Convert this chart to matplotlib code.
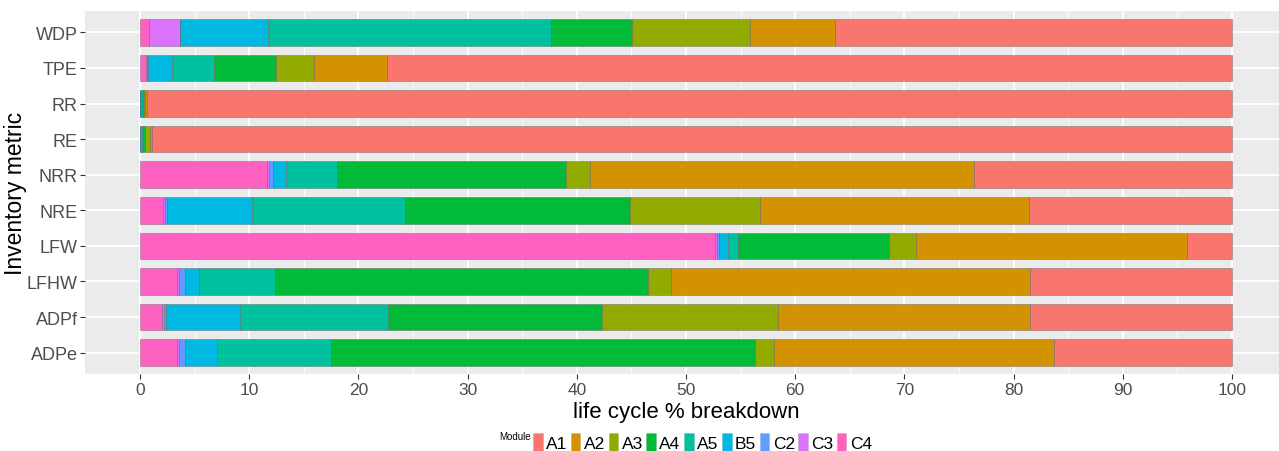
import numpy as np
import matplotlib
matplotlib.use('Agg')
import matplotlib.pyplot as plt
from matplotlib.patches import Patch

plt.rcParams['font.family'] = ['Liberation Sans', 'DejaVu Sans']

# categories, bottom to top
metrics = ['ADPe', 'ADPf', 'LFHW', 'LFW', 'NRE', 'NRR', 'RE', 'RR', 'TPE', 'WDP']

# module shares (% of life cycle), same order as metrics
C4 = [3.42, 2.05, 3.41, 52.66, 2.14, 11.60, 0.00, 0.00, 0.52, 0.85]
C3 = [0.12, 0.12, 0.12, 0.15, 0.12, 0.24, 0.00, 0.00, 0.10, 2.80]
C2 = [0.61, 0.24, 0.62, 0.20, 0.24, 0.37, 0.02, 0.02, 0.10, 0.05]
B5 = [2.93, 6.78, 1.28, 0.86, 7.78, 1.19, 0.16, 0.08, 2.24, 8.05]
A5 = [10.41, 13.55, 6.96, 0.93, 13.99, 4.67, 0.12, 0.15, 3.84, 25.91]
A4 = [38.86, 19.54, 34.10, 13.75, 20.57, 20.91, 0.19, 0.15, 5.68, 7.42]
A3 = [1.68, 16.12, 2.11, 2.55, 11.96, 2.26, 0.43, 0.05, 3.48, 10.75]
A2 = [25.67, 23.10, 32.90, 24.75, 24.60, 35.16, 0.18, 0.15, 6.69, 7.77]
A1 = [16.30, 18.50, 18.50, 4.15, 18.60, 23.60, 98.90, 99.40, 77.35, 36.40]

modules = ['A1', 'A2', 'A3', 'A4', 'A5', 'B5', 'C2', 'C3', 'C4']
values = {'A1': A1, 'A2': A2, 'A3': A3, 'A4': A4, 'A5': A5,
          'B5': B5, 'C2': C2, 'C3': C3, 'C4': C4}
colors = {'A1': '#F8766D', 'A2': '#D39200', 'A3': '#93AA00', 'A4': '#00BA38',
          'A5': '#00C19F', 'B5': '#00B9E3', 'C2': '#619CFF', 'C3': '#DB72FB',
          'C4': '#FF61C3'}

fig = plt.figure(figsize=(12.79, 4.52), dpi=100)
ax = fig.add_axes([85.4 / 1279, 1 - 375 / 452, 1201.2 / 1279, 363 / 452])
ax.set_facecolor('#EBEBEB')

y = np.arange(len(metrics))
left = np.zeros(len(metrics))
# stacking from the left: C4 first, A1 last
for m in modules[::-1]:
    v = np.array(values[m])
    ax.barh(y, v, left=left, height=0.75, color=colors[m],
            edgecolor=(0.35, 0.35, 0.35, 0.4), linewidth=0.7, zorder=3)
    left += v

ax.set_xlim(-5, 105)
ax.set_ylim(-0.6, len(metrics) - 0.4)
ax.set_xticks(np.arange(0, 101, 10))
ax.set_xticks(np.arange(5, 100, 10), minor=True)
ax.set_yticks(y)
ax.set_yticklabels(metrics)

ax.grid(True, which='major', color='white', linewidth=1.3, zorder=0)
ax.grid(True, which='minor', axis='x', color='white', linewidth=0.6, zorder=0)
ax.set_axisbelow(True)
for s in ax.spines.values():
    s.set_visible(False)

ax.tick_params(axis='both', which='major', length=3.5, width=0.8, color='#333333',
               labelcolor='#4D4D4D', pad=2)
ax.tick_params(axis='x', labelsize=12.5)
ax.tick_params(axis='y', labelsize=13)
ax.tick_params(which='minor', length=0)

ax.set_xlabel('life cycle % breakdown', fontsize=16, labelpad=3)
ax.set_ylabel('Inventory metric', fontsize=16.5, labelpad=0)

handles = [Patch(facecolor=colors[m], edgecolor=(0.35, 0.35, 0.35, 0.2), linewidth=0.5)
           for m in modules]
fig.legend(handles, modules, loc='center left', ncol=9,
           bbox_to_anchor=(533 / 1279, 1 - 443 / 452), frameon=False,
           fontsize=12.5, handlelength=0.55, handleheight=1.25,
           handletextpad=0.2, columnspacing=0.2, borderpad=0, borderaxespad=0)
fig.text(499 / 1279, 1 - 437 / 452, 'Module', fontsize=7, ha='left', va='center')

fig.savefig('out.png', dpi=100)
